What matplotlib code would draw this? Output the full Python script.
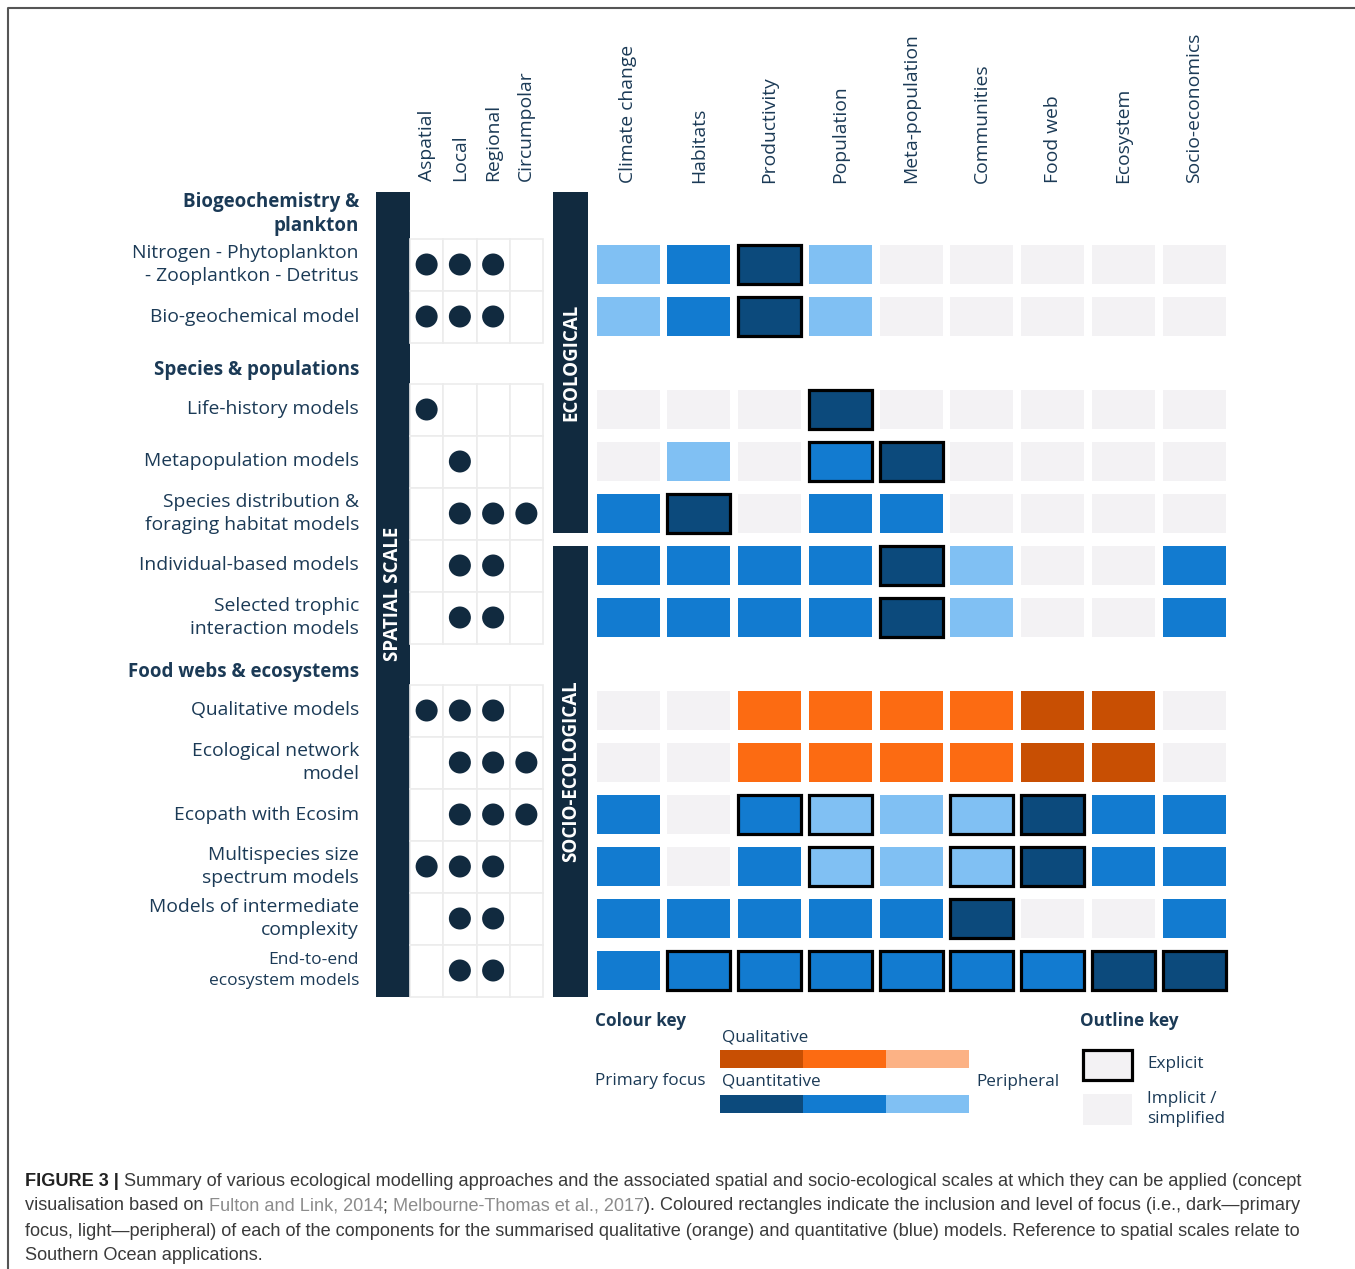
import matplotlib
matplotlib.use('Agg')
import matplotlib.pyplot as plt
from matplotlib.patches import Rectangle, Circle

# ---- data ----
scale_cols = ['Aspatial', 'Local', 'Regional', 'Circumpolar']
comp_cols = ['Climate change', 'Habitats', 'Productivity', 'Population',
             'Meta-population', 'Communities', 'Food web', 'Ecosystem',
             'Socio-economics']
groups = ['Biogeochemistry &\nplankton', 'Species & populations',
          'Food webs & ecosystems']
group_sizes = [2, 5, 6]
models = ['Nitrogen - Phytoplankton\n- Zooplantkon - Detritus',
          'Bio-geochemical model',
          'Life-history models',
          'Metapopulation models',
          'Species distribution &\nforaging habitat models',
          'Individual-based models',
          'Selected trophic\ninteraction models',
          'Qualitative models',
          'Ecological network\nmodel',
          'Ecopath with Ecosim',
          'Multispecies size\nspectrum models',
          'Models of intermediate\ncomplexity',
          'End-to-end\necosystem models']
# spatial scales covered (Aspatial, Local, Regional, Circumpolar)
spatial = [[1, 1, 1, 0],
           [1, 1, 1, 0],
           [1, 0, 0, 0],
           [0, 1, 0, 0],
           [0, 1, 1, 1],
           [0, 1, 1, 0],
           [0, 1, 1, 0],
           [1, 1, 1, 0],
           [0, 1, 1, 1],
           [0, 1, 1, 1],
           [1, 1, 1, 0],
           [0, 1, 1, 0],
           [0, 1, 1, 0]]
# focus level: 0 implicit, 1-3 quantitative light..dark, 4-5 qualitative mid..dark
focus = [[1, 2, 3, 1, 0, 0, 0, 0, 0],
         [1, 2, 3, 1, 0, 0, 0, 0, 0],
         [0, 0, 0, 3, 0, 0, 0, 0, 0],
         [0, 1, 0, 2, 3, 0, 0, 0, 0],
         [2, 3, 0, 2, 2, 0, 0, 0, 0],
         [2, 2, 2, 2, 3, 1, 0, 0, 2],
         [2, 2, 2, 2, 3, 1, 0, 0, 2],
         [0, 0, 4, 4, 4, 4, 5, 5, 0],
         [0, 0, 4, 4, 4, 4, 5, 5, 0],
         [2, 0, 2, 1, 1, 1, 3, 2, 2],
         [2, 0, 2, 1, 1, 1, 3, 2, 2],
         [2, 2, 2, 2, 2, 3, 0, 0, 2],
         [2, 2, 2, 2, 2, 2, 2, 3, 3]]
# components modelled explicitly (outlined)
explicit = [[2], [2], [3], [3, 4], [1], [4], [4], [], [],
            [2, 3, 5, 6], [3, 5, 6], [5], [1, 2, 3, 4, 5, 6, 7, 8]]
n_ecological = 5  # first rows under the ECOLOGICAL bar

qual_key = ['#c84f03', '#fc6b12', '#fcb285']
quant_key = ['#0c4a7c', '#127bd0', '#80c0f3']
palette = {0: '#f3f2f4', 1: '#80c0f3', 2: '#127bd0', 3: '#0c4a7c',
           4: '#fc6b12', 5: '#c84f03'}

caption = [
    [('FIGURE 3 |', '#222222', 'bold'),
     (' Summary of various ecological modelling approaches and the associated spatial and '
      'socio-ecological scales at which they can be applied (concept', '#3a3a3a', 'normal')],
    [('visualisation based on', '#3a3a3a', 'normal'),
     (' Fulton and Link, 2014', '#8c8c8c', 'normal'),
     (';', '#3a3a3a', 'normal'),
     (' Melbourne-Thomas et al., 2017', '#8c8c8c', 'normal'),
     ('). Coloured rectangles indicate the inclusion and level of focus (i.e., dark\u2014primary',
      '#3a3a3a', 'normal')],
    [('focus, light\u2014peripheral) of each of the components for the summarised qualitative '
      '(orange) and quantitative (blue) models. Reference to spatial scales relate to',
      '#3a3a3a', 'normal')],
    [('Southern Ocean applications.', '#3a3a3a', 'normal')],
]

# ---- style ----
FONT = 'Open Sans'
CAP_FONT = 'Liberation Sans'
NAVY = '#112a3f'
TXT = '#1b3a56'
FS = 13.9

# layout in pixels
Y0, PITCH, GAP = 264.5, 52, 41
GRID_X0, GRID_W = 410, 33.25
COMP_X0, COMP_W = 628, 70.75
CELL_W, CELL_H = 63, 39
LABEL_X = 359

row_y = []
first_of_group = []
for g, n in enumerate(group_sizes):
    first_of_group.append(len(row_y))
    for k in range(n):
        row_y.append(Y0 + len(row_y) * PITCH + g * GAP)

fig = plt.figure(figsize=(13.55, 12.69), dpi=100)
ax = fig.add_axes([0, 0, 1, 1])
ax.set_xlim(0, 1355)
ax.set_ylim(1269, 0)
ax.axis('off')

# frame
ax.plot([8, 8, 1355], [1269, 8, 8], color='#555555', lw=1.5)

# column headers
for j, name in enumerate(scale_cols):
    ax.text(GRID_X0 + (j + 0.5) * GRID_W, 181, name, rotation=90, ha='center',
            va='bottom', fontsize=FS, color=TXT, family=FONT)
for j, name in enumerate(comp_cols):
    ax.text(COMP_X0 + j * COMP_W, 183, name, rotation=90, ha='center',
            va='bottom', fontsize=FS, color=TXT, family=FONT)

# group headers
for g, name in enumerate(groups):
    y = row_y[first_of_group[g]] - 29
    ax.text(LABEL_X, y, name, ha='right', va='bottom', fontsize=13.5,
            fontweight='bold', color=TXT, family=FONT, linespacing=1.2)

# dark side bars
top = row_y[0] - 72.5
bottom = row_y[-1] + 26
ax.add_patch(Rectangle((376, top), 34, bottom - top, color=NAVY, lw=0))
eco_bot = row_y[n_ecological - 1] + CELL_H / 2
soc_top = row_y[n_ecological] - CELL_H / 2
ax.add_patch(Rectangle((553, top), 35, eco_bot - top, color=NAVY, lw=0))
ax.add_patch(Rectangle((553, soc_top), 35, bottom - soc_top, color=NAVY, lw=0))
ax.text(393, (top + bottom) / 2, 'SPATIAL SCALE', rotation=90, ha='center',
        va='center', color='white', fontsize=13.5, fontweight='bold', family=FONT)
ax.text(571, (top + eco_bot) / 2, 'ECOLOGICAL', rotation=90, ha='center',
        va='center', color='white', fontsize=13.5, fontweight='bold', family=FONT)
ax.text(571, (soc_top + bottom) / 2, 'SOCIO-ECOLOGICAL', rotation=90, ha='center',
        va='center', color='white', fontsize=13.5, fontweight='bold', family=FONT)

# rows
for i, y in enumerate(row_y):
    last = i == len(row_y) - 1
    ax.text(LABEL_X, y, models[i], ha='right', va='center',
            fontsize=12.5 if last else FS, color=TXT, family=FONT,
            linespacing=1.45 if last else 1.3)
    for j in range(len(scale_cols)):
        x = GRID_X0 + j * GRID_W
        ax.add_patch(Rectangle((x, y - 26), GRID_W, 52, facecolor='white',
                               edgecolor='#ececec', lw=1.2))
        if spatial[i][j]:
            ax.add_patch(Circle((x + GRID_W / 2, y), 11, color=NAVY, lw=0))
    for j in range(len(comp_cols)):
        cx = COMP_X0 + j * COMP_W
        ax.add_patch(Rectangle((cx - CELL_W / 2, y - CELL_H / 2), CELL_W, CELL_H,
                               facecolor=palette[focus[i][j]], lw=0))
        if j in explicit[i]:
            ax.add_patch(Rectangle((cx - CELL_W / 2, y - CELL_H / 2), CELL_W, CELL_H,
                                   facecolor='none', edgecolor='black', lw=2.3))

# colour key
KFS = 12.3
ax.text(595, 1021, 'Colour key', fontsize=KFS, fontweight='bold', color=TXT,
        family=FONT, va='center')
ax.text(722, 1038, 'Qualitative', fontsize=KFS, color=TXT, family=FONT, va='center')
ax.text(595, 1081, 'Primary focus', fontsize=KFS, color=TXT, family=FONT, va='center')
ax.text(722, 1082, 'Quantitative', fontsize=KFS, color=TXT, family=FONT, va='center')
ax.text(976, 1082, 'Peripheral', fontsize=KFS, color=TXT, family=FONT, va='center')
for k in range(3):
    ax.add_patch(Rectangle((720 + k * 83, 1050), 83, 18, color=qual_key[k], lw=0))
    ax.add_patch(Rectangle((720 + k * 83, 1095), 83, 18, color=quant_key[k], lw=0))

# outline key
ax.text(1080, 1021, 'Outline key', fontsize=KFS, fontweight='bold', color=TXT,
        family=FONT, va='center')
ax.add_patch(Rectangle((1083, 1050), 49, 30, facecolor=palette[0],
                       edgecolor='black', lw=2.3))
ax.add_patch(Rectangle((1083, 1094), 49, 31, facecolor=palette[0], lw=0))
ax.text(1147, 1064, 'Explicit', fontsize=KFS, color=TXT, family=FONT, va='center')
ax.text(1147, 1109, 'Implicit /\nsimplified', fontsize=KFS, color=TXT, family=FONT,
        va='center', linespacing=1.3)

# caption, pieces chained left to right
CAP_FS = 13.05
for k, line in enumerate(caption):
    prev = None
    for txt, col, wt in line:
        if prev is None:
            prev = ax.text(25, 1181 + k * 25, txt, color=col, fontweight=wt,
                           fontsize=CAP_FS, family=CAP_FONT, va='center', ha='left')
        else:
            prev = ax.annotate(txt, xy=(1, 0), xycoords=prev, va='bottom', ha='left',
                               color=col, fontweight=wt, fontsize=CAP_FS,
                               family=CAP_FONT)

fig.savefig('out.png', dpi=100)
